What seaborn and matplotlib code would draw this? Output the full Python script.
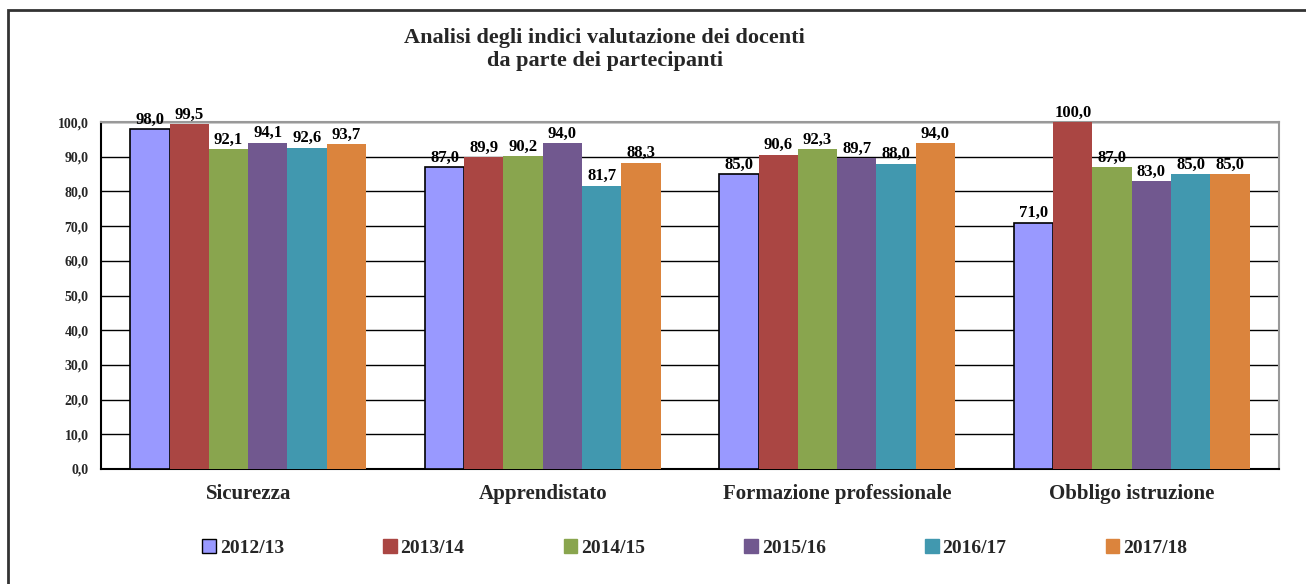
import pandas as pd
import matplotlib
matplotlib.use("Agg")
import matplotlib.pyplot as plt
import matplotlib.patches as mpatches
from matplotlib.ticker import FuncFormatter, MultipleLocator
import seaborn as sns

categories = ["Sicurezza", "Apprendistato", "Formazione professionale", "Obbligo istruzione"]
years = ["2012/13", "2013/14", "2014/15", "2015/16", "2016/17", "2017/18"]
v_2012 = [98.0, 87.0, 85.0, 71.0]
v_2013 = [99.5, 89.9, 90.6, 100.0]
v_2014 = [92.1, 90.2, 92.3, 87.0]
v_2015 = [94.1, 94.0, 89.7, 83.0]
v_2016 = [92.6, 81.7, 88.0, 85.0]
v_2017 = [93.7, 88.3, 94.0, 85.0]
colors = ["#9999FF", "#AA4643", "#89A54E", "#71588F", "#4198AF", "#DB843D"]

rows = []
for yr, vals in zip(years, [v_2012, v_2013, v_2014, v_2015, v_2016, v_2017]):
    for cat, v in zip(categories, vals):
        rows.append({"categoria": cat, "anno": yr, "valore": v})
df = pd.DataFrame(rows)

sns.set_style("white")
plt.rcParams["font.family"] = ["Liberation Serif", "DejaVu Serif"]
plt.rcParams["font.weight"] = "bold"

fig = plt.figure(figsize=(13.06, 5.84), dpi=100)
ax = fig.add_axes([0.0773, 0.197, 0.902, 0.594])

sns.barplot(data=df, x="categoria", y="valore", hue="anno", order=categories,
            hue_order=years, palette=colors, width=0.8, saturation=1,
            ax=ax, legend=False, linewidth=0, zorder=3)

# black edge only on the first series
for bar in ax.containers[0]:
    bar.set_edgecolor("black")
    bar.set_linewidth(1.2)

for cont in ax.containers:
    ax.bar_label(cont, labels=[f"{b.get_height():.1f}".replace(".", ",") for b in cont],
                 padding=1, fontsize=12, fontweight="bold", color="black")

ax.set_ylim(0, 100)
ax.set_xlim(-0.5, 3.5)
ax.yaxis.set_major_locator(MultipleLocator(10))
ax.yaxis.set_major_formatter(FuncFormatter(lambda v, p: f"{v:.1f}".replace(".", ",")))
ax.grid(axis="y", color="black", linewidth=1.0, zorder=0)
ax.set_axisbelow(True)

ax.set_xticks([0.5, 1.5, 2.5], minor=False)
ax.set_xticklabels([])
ax.set_xticks([0, 1, 2, 3], minor=True)
ax.set_xticklabels(categories, minor=True, fontsize=15, fontweight="bold")
ax.tick_params(axis="x", which="minor", length=0, pad=11)
ax.tick_params(axis="x", which="major", length=7, width=1.2, direction="out", color="black")
ax.tick_params(axis="y", length=6, width=1.2, direction="out", color="black",
               labelsize=10, pad=3)
ax.set_xlabel("")
ax.set_ylabel("")

ax.spines["left"].set_color("black")
ax.spines["left"].set_linewidth(1.5)
ax.spines["bottom"].set_color("black")
ax.spines["bottom"].set_linewidth(1.5)
ax.spines["top"].set_color("#999999")
ax.spines["right"].set_color("#999999")
ax.spines["top"].set_linewidth(1.5)
ax.spines["right"].set_linewidth(1.5)

fig.text(0.463, 0.916, "Analisi degli indici valutazione dei docenti\nda parte dei partecipanti",
         ha="center", va="center", fontsize=16, fontweight="bold", linespacing=1.2)

handles = [mpatches.Patch(facecolor=c, edgecolor="black" if i == 0 else c, linewidth=1)
           for i, c in enumerate(colors)]
fig.legend(handles, years, loc="center", bbox_to_anchor=(0.532, 0.062), ncol=6,
           frameon=False, handlelength=0.7, handleheight=0.7,
           handletextpad=0.2, columnspacing=5.1, prop={"weight": "bold", "size": 14})

fig.patches.append(mpatches.Rectangle((0.006, -0.05), 1.1, 1.033, transform=fig.transFigure,
                                      fill=False, edgecolor="#333333", linewidth=2))

fig.savefig("out.png", dpi=100)
